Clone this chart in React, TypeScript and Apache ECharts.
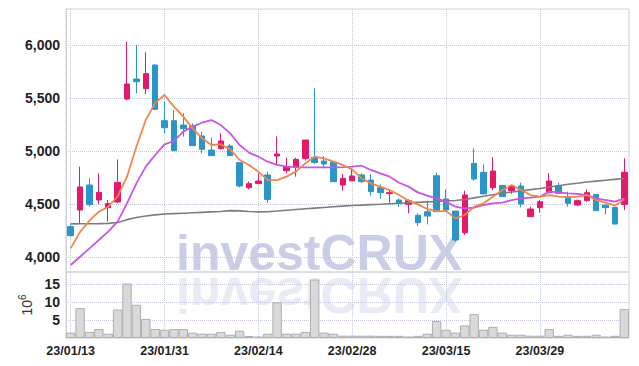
import { useEffect, useRef } from "react";
import * as echarts from "echarts";

const dates = [
  "23/01/13", "23/01/16", "23/01/17", "23/01/18", "23/01/19", "23/01/20", "23/01/25", "23/01/26", "23/01/27", "23/01/30",
  "23/01/31", "23/02/01", "23/02/02", "23/02/03", "23/02/06", "23/02/07", "23/02/08", "23/02/09", "23/02/10", "23/02/13",
  "23/02/14", "23/02/15", "23/02/16", "23/02/17", "23/02/20", "23/02/21", "23/02/22", "23/02/23", "23/02/24", "23/02/27",
  "23/02/28", "23/03/02", "23/03/03", "23/03/06", "23/03/07", "23/03/08", "23/03/09", "23/03/10", "23/03/13", "23/03/14",
  "23/03/15", "23/03/16", "23/03/17", "23/03/20", "23/03/21", "23/03/22", "23/03/23", "23/03/24", "23/03/27", "23/03/28",
  "23/03/29", "23/03/30", "23/03/31", "23/04/03", "23/04/04", "23/04/05", "23/04/06", "23/04/07", "23/04/10", "23/04/11",
];

const opens = [
  4290, 4446, 4681, 4540, 4468, 4521, 5491, 5680, 5589, 5811,
  5287, 5287, 5246, 5240, 5143, 5011, 5024, 5049, 4892, 4656,
  4694, 4776, 4954, 4816, 4848, 4932, 4942, 4907, 4898, 4681,
  4722, 4776, 4728, 4656, 4600, 4540, 4499, 4396, 4430, 4769,
  4550, 4436, 4232, 4885, 4801, 4656, 4678, 4628, 4672, 4383,
  4468, 4609, 4675, 4571, 4493, 4534, 4593, 4493, 4471, 4499,
];
const closes = [
  4205, 4663, 4496, 4612, 4506, 4706, 5633, 5654, 5730, 5394,
  5221, 5005, 5212, 5052, 5017, 4958, 5096, 4958, 4672, 4694,
  4719, 4546, 4973, 4854, 4923, 5105, 4892, 4879, 4713, 4744,
  4766, 4713, 4619, 4609, 4609, 4509, 4534, 4327, 4389, 4430,
  4446, 4163, 4587, 4738, 4597, 4813, 4572, 4672, 4502, 4455,
  4524, 4719, 4603, 4509, 4534, 4609, 4440, 4468, 4314, 4801,
];
const lows = [
  4195, 4320, 4477, 4502, 4336, 4509, 5479, 5545, 5538, 5390,
  5168, 5000, 5137, 5050, 4980, 4955, 5017, 4955, 4659, 4641,
  4694, 4515, 4870, 4791, 4760, 4911, 4879, 4838, 4710, 4628,
  4715, 4703, 4581, 4550, 4515, 4477, 4415, 4295, 4311, 4430,
  4430, 4148, 4211, 4722, 4597, 4634, 4570, 4597, 4471, 4383,
  4421, 4603, 4603, 4477, 4484, 4525, 4437, 4405, 4310, 4446,
];
const highs = [
  4310, 4854, 4744, 4791, 4540, 4923, 6031, 6000, 5931, 5820,
  5466, 5388, 5356, 5262, 5184, 5130, 5168, 5067, 4895, 4713,
  4790, 4807, 5137, 4939, 4939, 5105, 5592, 4954, 4900, 4785,
  4838, 4791, 4782, 4688, 4634, 4556, 4546, 4415, 4534, 4798,
  4641, 4436, 4628, 5027, 4876, 4942, 4680, 4681, 4703, 4477,
  4540, 4791, 4703, 4619, 4546, 4641, 4596, 4493, 4471, 4933,
];

const maShort = [
  4085, 4240, 4345, 4430, 4477, 4571, 4760, 5042, 5294, 5455,
  5529, 5419, 5325, 5215, 5121, 5058, 5064, 5017, 4917, 4870,
  4807, 4728, 4728, 4760, 4807, 4885, 4948, 4932, 4901, 4870,
  4829, 4744, 4697, 4666, 4634, 4587, 4534, 4499, 4455, 4436,
  4436, 4367, 4399, 4477, 4509, 4571, 4634, 4681, 4634, 4587,
  4571, 4587, 4571, 4565, 4571, 4587, 4540, 4515, 4487, 4546,
];
const maMid = [
  3928, 4006, 4085, 4163, 4242, 4336, 4509, 4697, 4854, 4964,
  5064, 5096, 5184, 5231, 5268, 5293, 5246, 5168, 5058, 4986,
  4948, 4901, 4870, 4855, 4850, 4848, 4848, 4848, 4848, 4850,
  4854, 4863, 4823, 4791, 4760, 4703, 4666, 4612, 4581, 4556,
  4525, 4477, 4462, 4468, 4493, 4509, 4515, 4540, 4556, 4562,
  4571, 4619, 4612, 4603, 4597, 4587, 4556, 4540, 4525, 4556,
];
const maLong = [
  4315, 4316, 4317, 4318, 4320, 4328, 4355, 4375, 4390, 4400,
  4408, 4412, 4416, 4420, 4424, 4428, 4432, 4440, 4438, 4432,
  4428, 4430, 4436, 4443, 4450, 4457, 4464, 4470, 4476, 4482,
  4488, 4492, 4497, 4500, 4505, 4510, 4514, 4518, 4522, 4526,
  4530, 4535, 4545, 4560, 4575, 4590, 4605, 4615, 4625, 4638,
  4648, 4662, 4674, 4688, 4698, 4710, 4718, 4726, 4734, 4742,
];

const volumes = [
  1.5, 8.3, 1.7, 2.5, 1.2, 7.9, 15.1, 9.2, 5.3, 2.5,
  2.3, 2.5, 2.5, 1.5, 1.2, 1.2, 1.7, 0.9, 2.0, 0.55,
  0.4, 1.2, 9.9, 1.2, 1.2, 1.7, 16.2, 1.5, 1.2, 0.65,
  0.65, 0.65, 0.65, 0.6, 0.6, 0.6, 0.4, 0.6, 1.2, 4.7,
  2.3, 1.5, 3.5, 6.6, 2.3, 3.1, 1.5, 0.9, 0.9, 0.65,
  0.65, 2.5, 0.6, 0.9, 0.6, 0.6, 0.9, 0.4, 0.6, 8.0,
];

const labelFont = "'Liberation Sans', Arial, sans-serif";
const gridDot = { type: "dotted" as const, color: "#c3c7dc", width: 1 };
const markFont = "bold 50px 'Liberation Sans', Arial, sans-serif";

export default function App() {
  const ref = useRef<HTMLDivElement>(null);
  useEffect(() => {
    const chart = echarts.init(ref.current!, null, { renderer: "svg" });
    const candles = dates.map((_, i) => [opens[i], closes[i], lows[i], highs[i]]);
    chart.setOption({
      animation: false,
      backgroundColor: "#ffffff",
      grid: [
        { left: 66, width: 563, top: 9, height: 263, show: true, borderColor: "#d2d2d2", borderWidth: 1 },
        { left: 66, width: 563, top: 272, height: 66, show: true, borderColor: "#d2d2d2", borderWidth: 1 },
      ],
      xAxis: [
        {
          type: "category", gridIndex: 0, data: dates, boundaryGap: true,
          axisLine: { show: false }, axisTick: { show: false }, axisLabel: { show: false },
          splitLine: { show: true, interval: 9, alignWithLabel: true, lineStyle: gridDot },
        },
        {
          type: "category", gridIndex: 1, data: dates, boundaryGap: true,
          axisLine: { show: false }, axisTick: { show: false },
          axisLabel: { show: true, interval: 9, fontSize: 12.5, fontWeight: "bold", color: "#222", margin: 6, fontFamily: labelFont },
          splitLine: { show: true, interval: 9, alignWithLabel: true, lineStyle: gridDot },
        },
      ],
      yAxis: [
        {
          type: "value", gridIndex: 0, min: 3862, max: 6339, splitNumber: 5, scale: true,
          axisLine: { show: true, lineStyle: { color: "#cfcfcf", width: 1 } }, axisTick: { show: false },
          axisLabel: {
            showMinLabel: false, showMaxLabel: false, fontSize: 14, fontWeight: "bold", color: "#222", margin: 6, fontFamily: labelFont,
            formatter: (v: number) => v.toLocaleString("en-US"),
          },
          splitLine: { show: true, showMinLine: false, showMaxLine: false, lineStyle: gridDot },
        },
        {
          type: "value", gridIndex: 1, min: 0, max: 18.3, interval: 5,
          axisLine: { show: true, lineStyle: { color: "#cfcfcf", width: 1 } }, axisTick: { show: false },
          axisLabel: { showMinLabel: false, showMaxLabel: false, fontSize: 14, fontWeight: "bold", color: "#222", margin: 6, fontFamily: labelFont },
          splitLine: { show: true, showMinLine: false, showMaxLine: false, lineStyle: gridDot },
          name: "10{sup|6}", nameLocation: "middle", nameRotate: 90, nameGap: 20,
          nameTextStyle: {
            fontSize: 14, color: "#333", fontFamily: labelFont,
            rich: { sup: { fontSize: 10, color: "#333", fontFamily: labelFont, verticalAlign: "top", padding: [0, 0, 8, 0] } },
          },
        },
      ],
      graphic: [
        {
          type: "text", x: 176, y: 278, z: -10, silent: true,
          style: { text: "investCRUX", font: markFont, fill: "#c9cee6", verticalAlign: "bottom", textVerticalAlign: "bottom" },
        },
        {
          type: "text", x: 176, y: 270, scaleY: -1, z: -10, silent: true,
          style: { text: "investCRUX", font: markFont, fill: "#e9ebf4", verticalAlign: "bottom", textVerticalAlign: "bottom" },
        },
      ],
      series: [
        {
          type: "bar", xAxisIndex: 1, yAxisIndex: 1, data: volumes, barCategoryGap: 0, barWidth: "100%",
          itemStyle: { color: "#d9d9d9", borderColor: "#aeaeae", borderWidth: 1 },
        },
        {
          type: "candlestick", xAxisIndex: 0, yAxisIndex: 0, data: candles, barWidth: 6,
          itemStyle: { color: "#e3196b", color0: "#2c95c8", borderColor: "#e3196b", borderColor0: "#2c95c8", borderWidth: 1 },
        },
        {
          type: "line", xAxisIndex: 0, yAxisIndex: 0, data: maLong, showSymbol: false, symbol: "none",
          lineStyle: { color: "#7d7d7d", width: 1.6 },
        },
        {
          type: "line", xAxisIndex: 0, yAxisIndex: 0, data: maMid, showSymbol: false, symbol: "none",
          lineStyle: { color: "#c756e6", width: 1.8 },
        },
        {
          type: "line", xAxisIndex: 0, yAxisIndex: 0, data: maShort, showSymbol: false, symbol: "none",
          lineStyle: { color: "#ee874d", width: 1.8 },
        },
      ],
    });
    return () => chart.dispose();
  }, []);
  return <div ref={ref} style={{ position: "absolute", left: 0, top: 0, width: 639, height: 366 }} />;
}
